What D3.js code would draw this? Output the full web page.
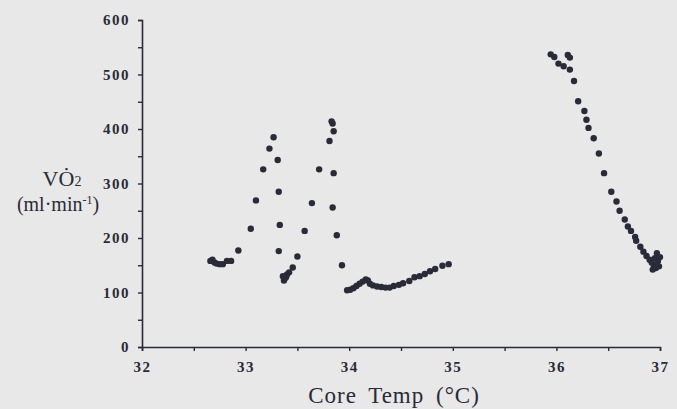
<!DOCTYPE html>
<html>
<head>
<meta charset="utf-8">
<script src="https://cdn.jsdelivr.net/npm/d3@7"></script>
<style>
  body { margin: 0; background: #e7e8e7; }
  svg { display: block; }
  .tick text { font-family: "Liberation Serif", serif; font-size: 15px; font-weight: bold; fill: #2b2a38; letter-spacing: 1.5px; }
</style>
</head>
<body>
<svg id="chart" width="677" height="409"></svg>
<script>
// core temperature (°C) and VO2 (ml/min)
const temp = [
  32.66, 32.68, 32.70, 32.72, 32.75, 32.78, 32.82, 32.86, 32.93,
  33.05, 33.10, 33.17, 33.23, 33.27, 33.31, 33.32, 33.33, 33.32,
  33.36, 33.37, 33.38, 33.40, 33.42, 33.39, 33.455, 33.50, 33.57, 33.64, 33.71,
  33.81, 33.83, 33.84, 33.85, 33.85, 33.84, 33.88, 33.93,
  33.98, 34.01, 34.04, 34.07, 34.10, 34.13, 34.16, 34.18, 34.20, 34.23, 34.27,
  34.31, 34.35, 34.39, 34.43, 34.48, 34.52, 34.58, 34.63, 34.68, 34.73, 34.78,
  34.83, 34.90, 34.96,
  35.945, 35.98, 36.02, 36.07, 36.11, 36.13, 36.13, 36.17, 36.21, 36.27, 36.29,
  36.31, 36.36, 36.41, 36.46, 36.53, 36.58, 36.61, 36.66, 36.69, 36.72, 36.76,
  36.77, 36.81, 36.84, 36.87, 36.90, 36.92, 36.94, 36.95, 36.97, 36.98, 36.99,
  36.96, 36.93, 37.0
];
const vo2 = [
  158, 160, 155, 153, 152, 152, 158, 158, 177,
  217, 269, 326, 364, 385, 343, 285, 224, 176,
  130, 122, 126, 133, 137, 128, 146, 166, 213, 264, 326,
  378, 414, 410, 396, 319, 256, 205, 150,
  104, 105, 108, 112, 116, 120, 124, 122, 116, 113, 111,
  110, 109, 109, 112, 114, 117, 121, 128, 130, 134, 139,
  143, 149, 152,
  537, 532, 520, 515, 536, 531, 509, 488, 451, 433, 417,
  402, 383, 355, 319, 285, 267, 250, 234, 221, 213, 202,
  195, 184, 175, 167, 160, 155, 150, 163, 172, 158, 148,
  145, 142, 165
];
const xTicks = [32, 33, 34, 35, 36, 37];
const yTicks = [0, 100, 200, 300, 400, 500, 600];

const svg = d3.select("#chart");
const ink = "#2b2a38";

const x = d3.scaleLinear().domain([32, 37]).range([142, 660]);
const y = d3.scaleLinear().domain([0, 600]).range([347, 20]);

// x axis: minor ticks every 0.5, labels on whole degrees
const gx = svg.append("g").attr("transform", "translate(0,347)");
gx.call(d3.axisBottom(x).tickValues(d3.range(32, 37.01, 0.5)).tickSize(4).tickFormat(""));
gx.append("g").call(d3.axisBottom(x).tickValues(xTicks).tickSize(0).tickPadding(14).tickFormat(d3.format("d")));
gx.selectAll(".domain").attr("stroke", ink).attr("stroke-width", 1.6);
gx.selectAll(".tick line").attr("stroke", ink).attr("stroke-width", 1.4);
gx.selectAll("g > g > .domain").remove();

const gy = svg.append("g").attr("transform", "translate(142,0)");
gy.call(d3.axisLeft(y).tickValues(d3.range(0, 601, 50)).tickSize(4).tickFormat(""));
gy.append("g").call(d3.axisLeft(y).tickValues(yTicks).tickSize(0).tickPadding(12).tickFormat(d3.format("d")));
gy.selectAll(".domain").attr("stroke", ink).attr("stroke-width", 1.6);
gy.selectAll(".tick line").attr("stroke", ink).attr("stroke-width", 1.4);
gy.selectAll("g > g > .domain").remove();

svg.append("g")
  .selectAll("circle")
  .data(temp)
  .join("circle")
  .attr("cx", d => x(d))
  .attr("cy", (d, i) => y(vo2[i]))
  .attr("r", 3.2)
  .attr("fill", ink);

// axis titles
svg.append("text")
  .attr("x", 394).attr("y", 403)
  .attr("text-anchor", "middle")
  .style("font-family", "Liberation Serif, serif")
  .style("font-size", "23px")
  .style("letter-spacing", "1px")
  .style("word-spacing", "5px")
  .style("fill", ink)
  .text("Core Temp (°C)");

const yl = svg.append("text")
  .attr("x", 62).attr("y", 186)
  .attr("text-anchor", "middle")
  .style("font-family", "Liberation Serif, serif")
  .style("font-size", "22px")
  .style("fill", ink);
yl.append("tspan").text("VȮ");
yl.append("tspan").attr("font-size", "14px").text("2");

const ul = svg.append("text")
  .attr("x", 58).attr("y", 211)
  .attr("text-anchor", "middle")
  .style("font-family", "Liberation Serif, serif")
  .style("font-size", "20px")
  .style("fill", ink);
ul.append("tspan").text("(ml·min");
ul.append("tspan").attr("font-size", "12px").attr("dy", "-7").text("-1");
ul.append("tspan").attr("dy", "7").text(")");
</script>
</body>
</html>
